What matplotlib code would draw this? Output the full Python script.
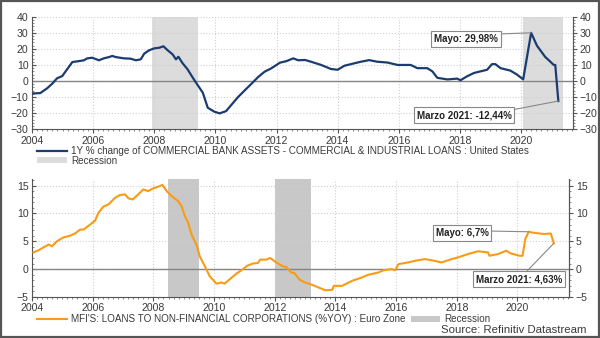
import matplotlib
matplotlib.use("Agg")
import matplotlib.pyplot as plt
from matplotlib.lines import Line2D
from matplotlib.patches import Patch, Rectangle
from matplotlib.ticker import MultipleLocator

plt.rcParams['font.family'] = ['Liberation Sans', 'DejaVu Sans']

# US commercial & industrial loans, 1Y % change
us_dates = [2004.05, 2004.27, 2004.49, 2004.66, 2004.82, 2004.99, 2005.15, 2005.32,
            2005.54, 2005.7, 2005.81, 2005.97, 2006.19, 2006.35, 2006.52, 2006.63,
            2006.74, 2007.01, 2007.23, 2007.4, 2007.56, 2007.67, 2007.83, 2008.0,
            2008.16, 2008.3, 2008.44, 2008.6, 2008.71, 2008.79, 2008.93, 2009.09,
            2009.26, 2009.42, 2009.59, 2009.75, 2009.97, 2010.14, 2010.35, 2010.52,
            2010.74, 2010.96, 2011.18, 2011.4, 2011.61, 2011.83, 2012.11, 2012.33,
            2012.55, 2012.71, 2012.93, 2013.13, 2013.46, 2013.78, 2014.0, 2014.22,
            2014.54, 2014.76, 2015.03, 2015.3, 2015.63, 2015.96, 2016.39, 2016.61,
            2016.93, 2017.1, 2017.26, 2017.59, 2017.91, 2018.02, 2018.24, 2018.46,
            2018.67, 2018.89, 2019.05, 2019.16, 2019.33, 2019.65, 2019.87, 2020.07,
            2020.33, 2020.52, 2020.79, 2020.96, 2021.07, 2021.12, 2021.22]
us_values = [-7.7, -7.5, -4.6, -1.7, 1.7, 3.1, 7.3, 11.8,
             12.4, 12.9, 14.1, 14.5, 12.9, 14.1, 14.9, 15.6,
             14.9, 14.1, 13.9, 12.9, 13.5, 17.0, 19.1, 20.3,
             20.7, 21.6, 19.1, 16.6, 13.5, 15.1, 11.0, 7.3,
             2.1, -2.5, -7.3, -16.6, -19.1, -20.1, -18.7, -14.9,
             -10.0, -5.8, -1.7, 2.5, 5.8, 7.9, 11.4, 12.4,
             14.1, 12.9, 13.1, 12.0, 10.0, 7.5, 7.0, 9.5,
             11.0, 12.0, 13.0, 12.0, 11.5, 10.0, 10.0, 8.0,
             8.0, 6.0, 2.0, 1.0, 1.5, 0.5, 3.0, 5.0,
             6.0, 7.0, 10.5, 10.5, 8.0, 6.5, 4.0, 1.0,
             29.98, 22.0, 15.0, 12.0, 10.0, 10.0, -12.44]
us_recessions = [(2007.94, 2009.42), (2020.08, 2021.37)]

# Euro Zone MFI loans to non-financial corporations, % YoY
ez_dates = [2004.05, 2004.22, 2004.38, 2004.55, 2004.66, 2004.82, 2005.04, 2005.26,
            2005.42, 2005.59, 2005.7, 2005.92, 2006.08, 2006.19, 2006.35, 2006.52,
            2006.74, 2006.9, 2007.07, 2007.18, 2007.32, 2007.5, 2007.67, 2007.83,
            2008.0, 2008.16, 2008.3, 2008.44, 2008.6, 2008.82, 2008.93, 2009.04,
            2009.15, 2009.26, 2009.42, 2009.53, 2009.7, 2009.86, 2010.08, 2010.24,
            2010.35, 2010.52, 2010.74, 2010.96, 2011.09, 2011.28, 2011.45, 2011.52,
            2011.72, 2011.85, 2012.05, 2012.27, 2012.38, 2012.54, 2012.65, 2012.82,
            2013.04, 2013.13, 2013.45, 2013.67, 2013.9, 2013.95, 2014.22, 2014.55,
            2014.87, 2015.09, 2015.42, 2015.58, 2015.86, 2015.97, 2016.08, 2016.4,
            2016.62, 2016.95, 2017.17, 2017.5, 2017.83, 2018.04, 2018.37, 2018.7,
            2019.03, 2019.08, 2019.36, 2019.63, 2019.79, 2020.07, 2020.17, 2020.26,
            2020.37, 2020.56, 2020.89, 2021.1, 2021.2]
ez_values = [3.0, 3.4, 3.9, 4.4, 4.1, 5.0, 5.7, 6.0,
             6.4, 7.1, 7.1, 8.0, 8.7, 10.1, 11.2, 11.6,
             12.8, 13.3, 13.4, 12.7, 12.5, 13.4, 14.3, 14.0,
             14.5, 14.8, 15.1, 14.0, 13.1, 12.2, 11.3, 9.5,
             8.3, 6.2, 4.4, 2.3, 0.5, -1.3, -2.6, -2.4,
             -2.6, -1.8, -0.8, 0.0, 0.6, 1.0, 1.1, 1.7,
             1.7, 2.0, 1.2, 0.5, 0.4, -0.6, -0.7, -1.9,
             -2.5, -2.6, -3.3, -3.8, -3.7, -3.0, -3.0, -2.1,
             -1.5, -1.0, -0.6, -0.2, 0.0, -0.2, 0.9, 1.2,
             1.5, 1.8, 1.6, 1.2, 1.8, 2.1, 2.7, 3.2,
             3.0, 2.4, 2.7, 3.3, 2.8, 2.4, 2.4, 5.4,
             6.7, 6.5, 6.3, 6.4, 4.63]
ez_recessions = [(2008.49, 2009.5), (2012.0, 2013.21)]

year_ticks = list(range(2004, 2021, 2))

navy = '#1b3c70'
orange = '#fa9b14'
text_col = '#3a3a3a'
tick_size = 7.6

fig = plt.figure(figsize=(6, 3.38), dpi=100)


def style_axes(ax, ylim, major, minor):
    ax.set_xlim(2004, 2021.7)
    ax.set_ylim(*ylim)
    ax.set_xticks(year_ticks)
    ax.set_xticklabels([str(y) for y in year_ticks])
    ax.xaxis.set_minor_locator(MultipleLocator(1 / 6))
    ax.yaxis.set_major_locator(MultipleLocator(major))
    ax.yaxis.set_minor_locator(MultipleLocator(minor))
    ax.grid(True, which='major', color='#cfcfcf', linestyle=':', linewidth=0.8)
    ax.axhline(0, color='#858585', linewidth=1.0, zorder=2)
    ax.spines['top'].set_visible(False)
    for side in ('left', 'right', 'bottom'):
        ax.spines[side].set_color('#555555')
        ax.spines[side].set_linewidth(0.8)
    ax.tick_params(axis='x', which='major', direction='out', length=3,
                   labelsize=tick_size, colors='#555555', labelcolor=text_col, pad=1.5)
    ax.tick_params(axis='x', which='minor', direction='out', length=1.5,
                   colors='#777777')
    ax.tick_params(axis='y', which='major', direction='in', length=3,
                   labelsize=tick_size, colors='#555555', labelcolor=text_col, pad=2.5)
    ax.tick_params(axis='y', which='minor', direction='in', length=1.5,
                   colors='#777777')
    right = ax.twinx()
    right.set_ylim(*ylim)
    right.yaxis.set_major_locator(MultipleLocator(major))
    right.yaxis.set_minor_locator(MultipleLocator(minor))
    for side in ('top', 'left', 'bottom'):
        right.spines[side].set_visible(False)
    right.spines['right'].set_color('#555555')
    right.spines['right'].set_linewidth(0.8)
    right.tick_params(axis='y', which='major', direction='out', length=3,
                      labelsize=tick_size, colors='#555555', labelcolor=text_col, pad=2)
    right.tick_params(axis='y', which='minor', direction='out', length=1.5,
                      colors='#777777')
    ax.set_zorder(right.get_zorder() + 1)
    ax.patch.set_visible(False)


def note(ax, text, xy, center_px, relpos):
    ax.annotate(text, xy=xy, xytext=center_px, textcoords='figure pixels',
                ha='center', va='center', fontsize=7, fontweight='bold',
                color='#222222', zorder=6,
                bbox=dict(boxstyle='square,pad=0.3', fc='white', ec='#888888', lw=0.8),
                arrowprops=dict(arrowstyle='-', color='#888888', lw=0.8,
                                shrinkA=0, shrinkB=0, relpos=relpos))


# top panel: United States
ax1 = fig.add_axes([0.0533, 0.6175, 0.9017, 0.3331])
for start, end in us_recessions:
    ax1.axvspan(start, end, color='#dcdcdc', lw=0, zorder=0)
ax1.plot(us_dates, us_values, color=navy, linewidth=1.6, zorder=4)
style_axes(ax1, (-30, 40), 10, 2)
note(ax1, 'Mayo: 29,98%', (us_dates[-7], us_values[-7]), (466, 299), (1, 1))
note(ax1, 'Marzo 2021: -12,44%', (us_dates[-1], us_values[-1]), (464, 223), (1, 1))

fig.legend([Line2D([0], [0], color=navy, lw=1.6),
            Patch(facecolor='#dcdcdc', edgecolor='none')],
           ['1Y % change of COMMERCIAL BANK ASSETS - COMMERCIAL & INDUSTRIAL LOANS : United States',
            'Recession'],
           loc='upper left', bbox_to_anchor=(0.062, 0.568), frameon=False,
           fontsize=7.1, handlelength=3.0, handleheight=0.55, handletextpad=0.45,
           labelspacing=-0.05, borderpad=0, borderaxespad=0, labelcolor=text_col)

# bottom panel: Euro Zone
ax2 = fig.add_axes([0.0533, 0.1213, 0.895, 0.348])
for start, end in ez_recessions:
    ax2.axvspan(start, end, color='#c8c8c8', lw=0, zorder=0)
ax2.plot(ez_dates, ez_values, color=orange, linewidth=1.5, zorder=4)
style_axes(ax2, (-5, 16.1), 5, 1)
note(ax2, 'Mayo: 6,7%', (ez_dates[-5], ez_values[-5]), (462, 105), (1, 0.7))
note(ax2, 'Marzo 2021: 4,63%', (ez_dates[-1], ez_values[-1]), (519, 59), (0.56, 1))

fig.legend([Line2D([0], [0], color=orange, lw=1.5),
            Patch(facecolor='#c8c8c8', edgecolor='none')],
           ["MFI'S: LOANS TO NON-FINANCIAL CORPORATIONS (%YOY) : Euro Zone",
            'Recession'],
           loc='upper left', bbox_to_anchor=(0.062, 0.07), frameon=False, ncol=2,
           fontsize=7.1, handlelength=3.0, handleheight=0.55, handletextpad=0.45,
           columnspacing=0.5, borderpad=0, borderaxespad=0, labelcolor=text_col)

fig.text(0.978, 0.008, 'Source: Refinitiv Datastream', ha='right', va='bottom',
         fontsize=8.2, color=text_col)

# dark frame around the whole figure
fig.patches.append(Rectangle((0.002, 0.003), 0.996, 0.994, transform=fig.transFigure,
                             fill=False, edgecolor='#555555', linewidth=1.6))

fig.savefig('out.png', dpi=100)
